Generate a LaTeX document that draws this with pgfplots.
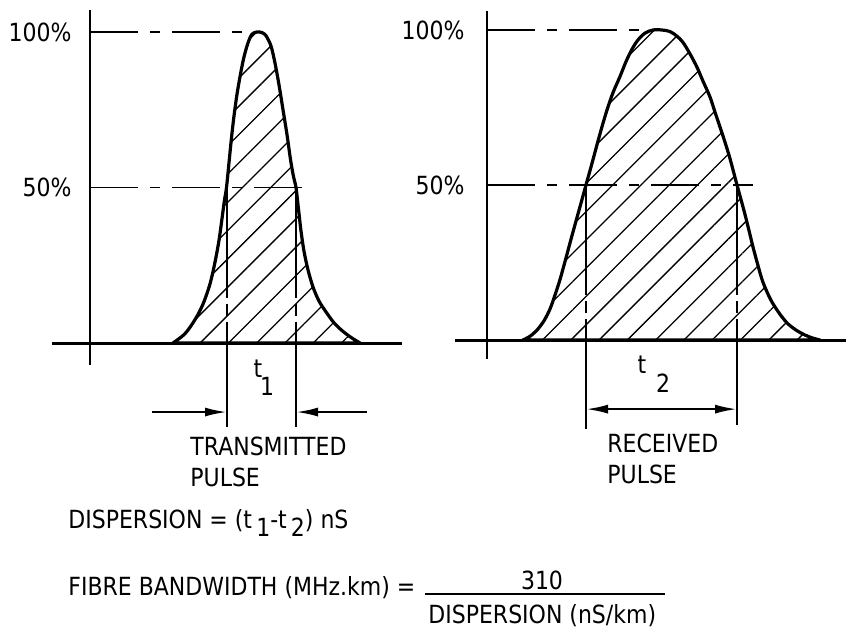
\documentclass[border=0pt]{standalone}
\usepackage{fontspec}
\setmainfont{DejaVu Sans}[FakeStretch=0.88]
\usepackage{pgfplots}
\pgfplotsset{compat=1.18}
\usetikzlibrary{patterns.meta,arrows.meta}
\begin{document}
\fontsize{12.5}{14}\selectfont
\begin{tikzpicture}
\useasboundingbox (0,0) rectangle (423pt,314pt);
\pgfplotsset{
  panel/.style={hide axis, clip=false, x=0.5pt, anchor=origin},
}
\tikzset{
  chain/.style={line width=0.9pt, dash pattern=on 24pt off 6pt on 5pt off 6pt},
  vdash/.style={line width=0.8pt, dash pattern=on 55pt off 3pt on 6pt off 3pt},
  curve/.style={smooth, tension=0.5, line width=1.6pt, line join=round,
    pattern={Lines[angle=45,distance=10pt,line width=0.65pt]}},
  ah/.tip={Latex[length=11pt,width=4.5pt]},
  arr/.style={line width=1.1pt, -ah},
  txt/.style={inner sep=0pt, anchor=west},
}
% ---------------- LEFT PANEL: transmitted pulse ----------------
\begin{axis}[panel, y=1.555pt, at={(45pt,142.5pt)},
  xmin=-38, xmax=312, ymin=-30, ymax=107]
  \addplot[curve] coordinates {
    (83,0) (95,3) (105,7.5) (113,12.5) (120,19) (125,26) (129,33) (132,40)
    (134.5,46) (136.5,50) (139,58) (141.5,66) (144,73) (147,80) (150.5,86.5)
    (154,92) (158,96.5) (162,99.3) (167,100) (172,99.8)
    (176,98.8) (181,95.5) (185,90) (189,83) (193,75) (197,67) (200.5,59)
    (203.5,53.5) (206,50) (208.5,43) (211,36) (214,29.5) (218,23.5) (223,18)
    (229,13.5) (236,10) (244,6.5) (252,4) (261,1.8) (270,0)} \closedcycle;
  % axes
  \addplot[line width=1.5pt] coordinates {(-38,0) (312,0)};
  \addplot[line width=0.9pt] coordinates {(0,107) (0,-7)};
  % reference levels
  \addplot[chain] coordinates {(0,100) (165,100)};
  \addplot[chain] coordinates {(0,50) (223,50)};
  % 50% verticals
  \addplot[vdash] coordinates {(137,50) (137,-27)};
  \addplot[vdash] coordinates {(206,50) (206,-27)};
  % arrows
  \addplot[arr] coordinates {(62,-22.2) (137,-22.2)};
  \addplot[arr] coordinates {(277,-22.2) (206,-22.2)};
  \node[inner sep=0pt] at (axis cs:168,-8.4) {t};
  \node[inner sep=0pt] at (axis cs:177,-13.8) {1};
  \node[inner sep=0pt, anchor=east] at (axis cs:-18,100) {100\%};
  \node[inner sep=0pt, anchor=east] at (axis cs:-18,50) {50\%};
  \node[txt] at (axis cs:100,-33.4) {TRANSMITTED};
  \node[txt] at (axis cs:100,-43.1) {PULSE};
  % formulas
  \node[txt] at (axis cs:-22,-57.9) {DISPERSION = (t\,\raisebox{-0.6ex}{1}-t\,\raisebox{-0.6ex}{2}) nS};
  \node[txt] at (axis cs:-22,-78.8) {FIBRE BANDWIDTH (MHz.km) =};
  \addplot[line width=0.9pt] coordinates {(335,-80.6) (575,-80.6)};
  \node[inner sep=0pt] at (axis cs:452,-76.2) {310};
  \node[txt] at (axis cs:338,-87.6) {DISPERSION (nS/km)};
\end{axis}
% ---------------- RIGHT PANEL: received pulse ----------------
\begin{axis}[panel, y=1.55pt, at={(243.5pt,144pt)},
  xmin=-32, xmax=359, ymin=-30, ymax=106]
  \addplot[curve] coordinates {
    (36,0) (43,1.2) (50,3.2) (57,6.2) (63,10) (68,14.5) (73,19.5) (78,25.3)
    (83,31.3) (88,37.2) (93,43) (99,50) (105,57) (110,63) (115,68.8)
    (120,74.2) (126,79.8) (133,85) (139,89.8) (145,93.8) (151,96.8)
    (158,99) (166,100) (175,100)
    (183,99.5) (190,98) (196,96) (203,92.3) (210,88) (216,83.5) (223,78.4)
    (228,73.5) (233,68.7) (238,63.8) (243,58.5) (250,50) (254,45.3)
    (258,40.5) (262,35.3) (266,30) (271,24) (276,18.6) (284,12.8) (293,8.3)
    (301,5.2) (310,3) (318,1.6) (326,0.6) (333,0)} \closedcycle;
  \addplot[line width=1.5pt] coordinates {(-32,0) (359,0)};
  \addplot[line width=0.9pt] coordinates {(0,106) (0,-6)};
  \addplot[chain] coordinates {(0,100) (166,100)};
  \addplot[chain] coordinates {(0,50) (266,50)};
  \addplot[vdash] coordinates {(99,50) (99,-28.7)};
  \addplot[vdash] coordinates {(250,50) (250,-27.4)};
  \addplot[line width=1.1pt, ah-ah] coordinates {(99,-22.3) (250,-22.3)};
  \node[inner sep=0pt] at (axis cs:155,-8.1) {t};
  \node[inner sep=0pt] at (axis cs:176,-13.9) {2};
  \node[inner sep=0pt, anchor=east] at (axis cs:-22,100) {100\%};
  \node[inner sep=0pt, anchor=east] at (axis cs:-22,50) {50\%};
  \node[txt] at (axis cs:120,-33.5) {RECEIVED};
  \node[txt] at (axis cs:120,-43.2) {PULSE};
\end{axis}
\end{tikzpicture}
\end{document}
